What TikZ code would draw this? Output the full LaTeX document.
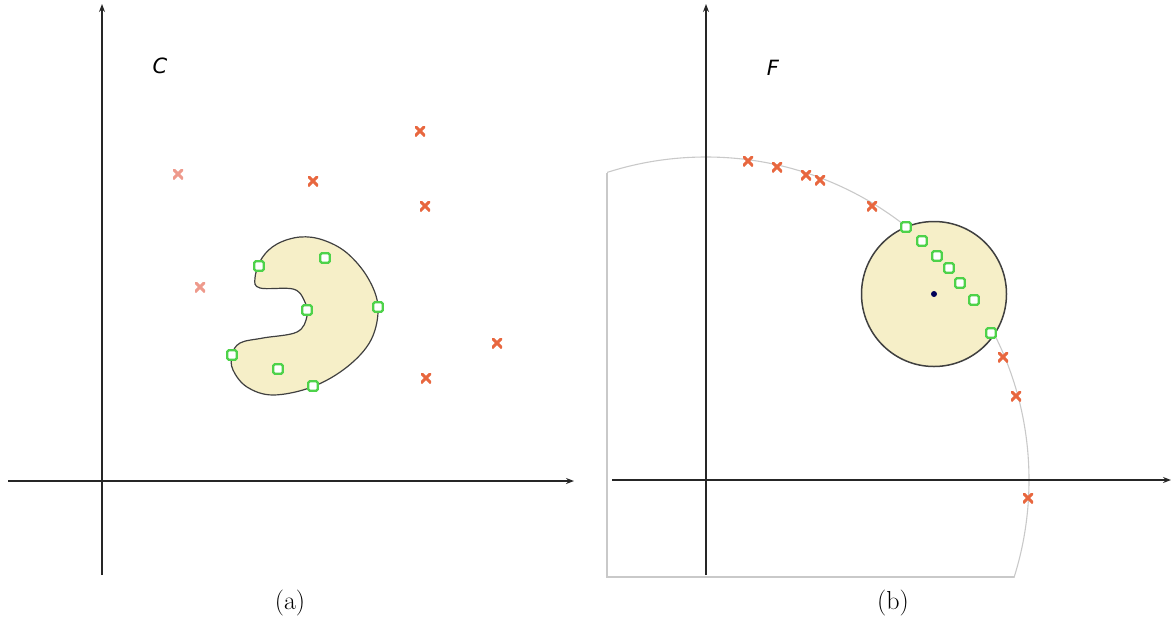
\documentclass[tikz,border=0pt]{standalone}
\usepackage{fontspec}
\newfontfamily\labfont{DejaVu Sans}
\usetikzlibrary{arrows.meta}
\definecolor{xred}{HTML}{E8673F}
\definecolor{xpale}{HTML}{EE9A8C}
\definecolor{sqgreen}{HTML}{4ED24A}
\definecolor{regfill}{HTML}{F6EFC8}
\definecolor{arcgrey}{HTML}{C9C9C9}
\tikzset{
  axis/.style={line width=1.4pt, black!85, -{Stealth[length=8pt,width=6pt]}},
  xm/.style={minimum size=10pt, inner sep=0pt, path picture={
      \draw[line width=3pt, #1]
        (path picture bounding box.north west) -- (path picture bounding box.south east)
        (path picture bounding box.north east) -- (path picture bounding box.south west);}},
  xm/.default=xred,
  sq/.style={draw=sqgreen, fill=white, line width=2.4pt, minimum size=9.5pt, inner sep=0pt, rounded corners=1.5pt},
  region/.style={fill=regfill, draw=black!75, line width=1.2pt},
  panlab/.style={font=\labfont\itshape\fontsize{21}{24}\selectfont, inner sep=0pt},
  sublab/.style={font=\fontsize{26}{30}\selectfont, inner sep=0pt},
  guide/.style={draw=arcgrey, line width=1.1pt}
}
\begin{document}
\begin{tikzpicture}[x=1pt,y=-1pt]
\useasboundingbox (0,0) rectangle (1171,622);

% ---------- panel (a) ----------
\coordinate (ayb) at (102,575);
\coordinate (ayt) at (102,4);
\coordinate (axl) at (8,481);
\coordinate (axr) at (574,481);
\draw[axis] (ayb) -- (ayt);
\draw[axis] (axl) -- (axr);
\node[panlab] (C) at (160,66) {C};

\draw[region] plot[smooth cycle, tension=0.6] coordinates {
 (300,237) (323,240) (347,253) (368,278) (378,307) (371,340) (347,367)
 (312,387) (273,395) (247,387) (233,370) (232,355) (240,343) (263,338)
 (297,332) (307,316) (304,300) (293,289) (260,288) (255,278) (262,258) (277,244)};

\node[xm] (a1) at (420,131) {};
\node[xm=xpale] (a2) at (178,174) {};
\node[xm] (a3) at (313,181) {};
\node[xm] (a4) at (425,206) {};
\node[xm=xpale] (a5) at (200,287) {};
\node[xm] (a6) at (497,343) {};
\node[xm] (a7) at (426,378) {};

\node[sq] (g1) at (259,266) {};
\node[sq] (g2) at (325,258) {};
\node[sq] (g3) at (307,310) {};
\node[sq] (g4) at (378,307) {};
\node[sq] (g5) at (232,355) {};
\node[sq] (g6) at (278,369) {};
\node[sq] (g7) at (313,386) {};

\node[sublab] (capa) at (290,603) {(a)};

% ---------- panel (b) ----------
\coordinate (O) at (706,480);
\begin{scope}
  \clip (607,0) rectangle (1171,577);
  \draw[guide] (O) circle[radius=323];
\end{scope}
\coordinate (bl1) at (607,173);
\coordinate (bl2) at (607,577);
\coordinate (bl3) at (1014,577);
\draw[guide] (bl1) -- (bl2) -- (bl3);

\coordinate (byb) at (706,575);
\coordinate (byt) at (706,4);
\coordinate (bxl) at (612,480);
\coordinate (bxr) at (1171,480);
\draw[axis] (byb) -- (byt);
\draw[axis] (bxl) -- (bxr);
\node[panlab] (F) at (773,68) {F};

\node[region, line width=1.5pt, circle, minimum size=145pt, inner sep=0pt] (disk) at (934,294) {};
\node[circle, fill=blue!35!black, minimum size=6pt, inner sep=0pt] (ctr) at (disk.center) {};

\node[xm] (b1) at (748,161) {};
\node[xm] (b2) at (777,167) {};
\node[xm] (b3) at (806,175) {};
\node[xm] (b4) at (820,180) {};
\node[xm] (b5) at (872,206) {};
\node[xm] (b6) at (1003,357) {};
\node[xm] (b7) at (1016,396) {};
\node[xm] (b8) at (1028,498) {};

\node[sq] (h1) at (906,227) {};
\node[sq] (h2) at (922,241) {};
\node[sq] (h3) at (937,256) {};
\node[sq] (h4) at (949,268) {};
\node[sq] (h5) at (960,283) {};
\node[sq] (h6) at (974,300) {};
\node[sq] (h7) at (991,333) {};

\node[sublab] (capb) at (893,603) {(b)};
\end{tikzpicture}
\end{document}
